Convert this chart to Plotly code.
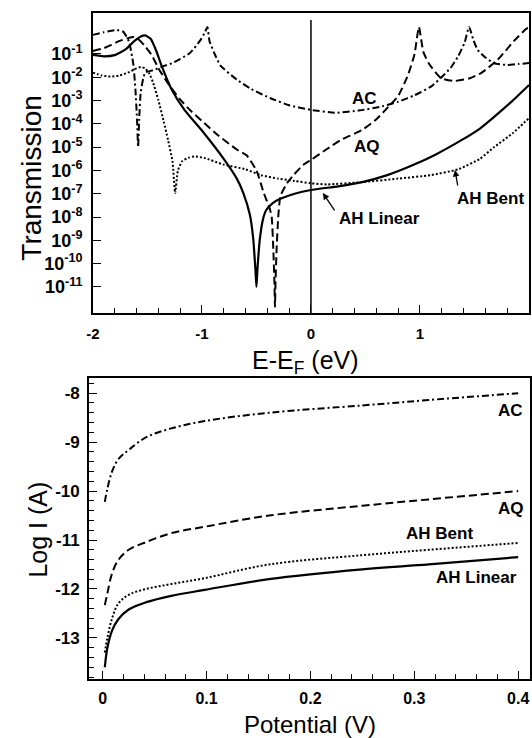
import plotly.graph_objects as go

# ---------------- Top panel: transmission vs E-EF (log10 T values) ----------------
E_AHL = [-2.0, -1.9, -1.8, -1.7, -1.62, -1.56, -1.52, -1.47, -1.42, -1.37, -1.28, -1.16, -0.98, -0.80,
         -0.68, -0.62, -0.56, -0.53, -0.51, -0.50, -0.49, -0.47, -0.44, -0.41, -0.35, -0.28, -0.15, 0.0,
         0.25, 0.47, 0.7, 0.92, 1.15, 1.38, 1.55, 1.68, 1.85, 2.0]
LT_AHL = [-1.04, -1.1, -1.05, -0.8, -0.45, -0.25, -0.2, -0.35, -0.85, -1.5, -2.5, -3.4, -4.4, -5.5,
          -6.35, -6.97, -7.9, -8.9, -10.2, -11.0, -10.2, -9.0, -8.1, -7.7, -7.4, -7.22, -7.0, -6.84,
          -6.68, -6.5, -6.2, -5.8, -5.3, -4.7, -4.2, -3.7, -3.0, -2.33]

E_AQ = [-2.0, -1.9, -1.83, -1.76, -1.68, -1.63, -1.58, -1.53, -1.46, -1.4, -1.32, -1.2, -1.1, -0.98,
        -0.85, -0.68, -0.59, -0.5, -0.43, -0.38, -0.36, -0.345, -0.335, -0.33, -0.325, -0.315, -0.3,
        -0.28, -0.22, -0.16, -0.07, 0.0, 0.14, 0.27, 0.47, 0.6, 0.71, 0.8, 0.89, 0.95, 0.99, 1.03,
        1.08, 1.19, 1.31, 1.45, 1.56, 1.71, 1.86, 1.98, 2.0]
LT_AQ = [-0.87, -0.75, -0.61, -0.45, -0.32, -0.27, -0.38, -0.62, -1.05, -1.6, -2.2, -2.95, -3.45, -3.96,
         -4.5, -5.1, -5.35, -6.0, -7.0, -7.6, -8.0, -9.4, -10.8, -11.86, -10.8, -9.4, -8.0,
         -7.1, -6.55, -6.2, -5.76, -5.55, -5.1, -4.7, -4.26, -3.8, -3.27, -2.8, -1.9, -1.0, 0.16, -0.9,
         -1.4, -2.03, -2.16, -2.05, -1.82, -1.26, -0.45, 0.1, 0.12]

E_AC = [-2.0, -1.9, -1.78, -1.72, -1.67, -1.63, -1.61, -1.595, -1.585, -1.575, -1.56, -1.52, -1.45,
        -1.34, -1.27, -1.11, -1.02, -0.97, -0.95, -0.93, -0.87, -0.83, -0.68, -0.55, -0.37, -0.2, 0.0,
        0.23, 0.45, 0.65, 0.8, 0.95, 1.1, 1.19, 1.28, 1.35, 1.41, 1.45, 1.49, 1.53, 1.6, 1.68, 1.8,
        1.9, 2.0]
LT_AC = [-0.18, -0.07, 0.03, -0.05, -0.45, -1.4, -2.5, -3.8, -5.0, -3.8, -2.6, -1.8, -1.7,
         -1.5, -1.39, -0.96, -0.45, -0.05, 0.16, -0.45, -1.13, -1.5, -2.1, -2.5, -2.9, -3.2, -3.4,
         -3.52, -3.42, -3.25, -3.05, -2.77, -2.4, -2.03, -1.6, -1.1, -0.5, 0.16, -0.4, -0.83, -1.15,
         -1.4, -1.47, -1.43, -1.39]

E_AHB = [-2.0, -1.92, -1.84, -1.76, -1.68, -1.6, -1.56, -1.52, -1.48, -1.45, -1.4, -1.35, -1.31, -1.27,
         -1.245, -1.22, -1.18, -1.12, -1.07, -0.98, -0.8, -0.6, -0.46, -0.3, -0.15, 0.0, 0.15, 0.47,
         0.8, 1.1, 1.35, 1.55, 1.68, 1.85, 2.0]
LT_AHB = [-1.8, -1.92, -1.97, -1.93, -1.8, -1.62, -1.56, -1.62, -1.85, -2.2, -2.97, -3.9, -4.7, -5.6,
          -6.97, -6.0, -5.6, -5.45, -5.4, -5.46, -5.75, -5.95, -6.2, -6.35, -6.45, -6.55, -6.6, -6.5,
          -6.35, -6.2, -5.95, -5.5, -5.0, -4.4, -3.75]

# ---------------- Bottom panel: log I vs potential ----------------
V = [0.002, 0.0045, 0.009, 0.015, 0.025, 0.042, 0.066, 0.098, 0.16, 0.25, 0.314, 0.4]
LOGI_AC = [-10.22, -9.95, -9.6, -9.35, -9.16, -8.9, -8.72, -8.57, -8.4, -8.25, -8.14, -8.0]
LOGI_AQ = [-12.33, -12.09, -11.68, -11.41, -11.2, -11.04, -10.86, -10.73, -10.5, -10.3, -10.17, -10.0]
LOGI_AHB = [-13.3, -13.0, -12.6, -12.3, -12.12, -12.0, -11.9, -11.78, -11.5, -11.31, -11.2, -11.06]
LOGI_AHL = [-13.6, -13.2, -12.85, -12.62, -12.42, -12.27, -12.14, -12.02, -11.8, -11.6, -11.5, -11.35]

TOP_XTICKS = [-2, -1, 0, 1, 2]
TOP_YTICK_EXP = [-1, -2, -3, -4, -5, -6, -7, -8, -9, -10, -11]
BOT_XTICKS = [0, 0.1, 0.2, 0.3, 0.4]
BOT_YTICKS = [-8, -9, -10, -11, -12, -13]

FONT = "Liberation Sans, Arial, Helvetica, sans-serif"
styles = {
    "AH Linear": dict(color="black", width=2.2, dash="solid"),
    "AQ": dict(color="black", width=2, dash="8px,4px"),
    "AC": dict(color="black", width=2, dash="7px,3px,2px,3px"),
    "AH Bent": dict(color="black", width=2, dash="2px,2px"),
}

fig = go.Figure()
top = [("AH Linear", E_AHL, LT_AHL), ("AQ", E_AQ, LT_AQ), ("AC", E_AC, LT_AC), ("AH Bent", E_AHB, LT_AHB)]
for name, xs, lts in top:
    fig.add_trace(go.Scatter(x=xs, y=[10 ** v for v in lts], mode="lines", name=name,
                             line=dict(**styles[name], shape="spline", smoothing=0.5),
                             xaxis="x", yaxis="y", showlegend=False))
bot = [("AC", LOGI_AC), ("AQ", LOGI_AQ), ("AH Bent", LOGI_AHB), ("AH Linear", LOGI_AHL)]
for name, ys in bot:
    fig.add_trace(go.Scatter(x=V, y=ys, mode="lines", name=name,
                             line=dict(**styles[name], shape="spline", smoothing=1.0),
                             xaxis="x2", yaxis="y2", showlegend=False))

W, H = 532, 738
axline = dict(showline=True, linecolor="black", linewidth=1.5, mirror=True, showgrid=False,
              zeroline=False, ticks="inside", ticklen=8, tickwidth=1.2, tickcolor="black")
tickfont = dict(family=FONT, size=16, color="black", weight="bold")

fig.update_layout(
    width=W, height=H, autosize=False,
    margin=dict(l=0, r=0, t=0, b=0),
    paper_bgcolor="white", plot_bgcolor="white",
    xaxis=dict(domain=[87 / W, 529 / W], anchor="y", range=[-2, 2],
               tickmode="array", tickvals=TOP_XTICKS, ticktext=[str(t) for t in TOP_XTICKS],
               tickfont=dict(family=FONT, size=15, color="black", weight="bold"),
               minor=dict(ticks="inside", ticklen=5, dtick=0.2, tick0=0, tickcolor="black", tickwidth=1),
               ticklabelstandoff=6, **axline),
    yaxis=dict(domain=[(H - 313) / H, (H - 13) / H], anchor="x", type="log", range=[-12.12, 0.76],
               tickmode="array", tickvals=[10 ** e for e in TOP_YTICK_EXP],
               ticktext=["10<sup>%d</sup>" % e for e in TOP_YTICK_EXP],
               tickfont=dict(family=FONT, size=18, color="black", weight="bold"),
               ticklabelstandoff=5, **axline),
    xaxis2=dict(domain=[83 / W, 530 / W], anchor="y2", range=[-0.0133, 0.4114],
                tickmode="array", tickvals=BOT_XTICKS, ticktext=["0", "0.1", "0.2", "0.3", "0.4"],
                tickfont=tickfont,
                minor=dict(ticks="inside", ticklen=5, dtick=0.02, tick0=0, tickcolor="black", tickwidth=1),
                ticklabelstandoff=4, **axline),
    yaxis2=dict(domain=[(H - 679) / H, (H - 378) / H], anchor="x2", range=[-13.84, -7.69],
                tickmode="array", tickvals=BOT_YTICKS, ticktext=[str(t) for t in BOT_YTICKS],
                tickfont=dict(family=FONT, size=17, color="black", weight="bold"),
                minor=dict(ticks="inside", ticklen=5, dtick=0.2, tick0=0, tickcolor="black", tickwidth=1),
                ticklabelstandoff=4, **axline),
)

# Fermi level line
fig.add_shape(type="line", xref="x", yref="y domain", x0=0, x1=0, y0=0, y1=0.977,
              line=dict(color="black", width=1.5))

lab = dict(family=FONT, size=17, color="black", weight="bold")
C = dict(xanchor="center", yanchor="middle", showarrow=False)
ann = []
# top panel labels (y in log10 units)
ann.append(dict(x=0.489, y=-2.93, xref="x", yref="y", text="AC", font=lab, **C))
ann.append(dict(x=0.516, y=-4.95, xref="x", yref="y", text="AQ", font=lab, **C))
ann.append(dict(x=0.629, y=-8.08, xref="x", yref="y", text="AH Linear", font=lab, **C))
ann.append(dict(x=1.643, y=-7.22, xref="x", yref="y", text="AH Bent", font=lab, **C))
ann.append(dict(x=0.109, y=-6.97, xref="x", yref="y", ax=0.226, ay=-7.78, axref="x", ayref="y",
                text="", showarrow=True, arrowhead=2, arrowsize=1, arrowwidth=1.3, arrowcolor="black"))
ann.append(dict(x=1.321, y=-5.98, xref="x", yref="y", ax=1.348, ay=-6.71, axref="x", ayref="y",
                text="", showarrow=True, arrowhead=2, arrowsize=1, arrowwidth=1.3, arrowcolor="black"))
# bottom panel labels
ann.append(dict(x=0.3929, y=-8.347, xref="x2", yref="y2", text="AC", font=lab, **C))
ann.append(dict(x=0.3933, y=-10.347, xref="x2", yref="y2", text="AQ", font=lab, **C))
ann.append(dict(x=0.3243, y=-10.857, xref="x2", yref="y2", text="AH Bent", font=lab, **C))
ann.append(dict(x=0.36, y=-11.776, xref="x2", yref="y2", text="AH Linear", font=lab, **C))
# axis titles
tfont = dict(family=FONT, size=24, color="black")
ann.append(dict(x=25 / W, y=(H - 178) / H, xref="paper", yref="paper", text="Transmission",
                textangle=-90, font=dict(family=FONT, size=28, color="black"), **C))
ann.append(dict(x=302 / W, y=(H - 362) / H, xref="paper", yref="paper", text="E-E<sub>F</sub> (eV)",
                font=dict(family=FONT, size=25, color="black"), **C))
ann.append(dict(x=31 / W, y=(H - 530) / H, xref="paper", yref="paper", text="Log I (A)",
                textangle=-90, font=dict(family=FONT, size=25, color="black"), **C))
ann.append(dict(x=307 / W, y=(H - 724) / H, xref="paper", yref="paper", text="Potential (V)",
                font=tfont, **C))
fig.update_layout(annotations=ann)

fig.write_html("out.html")
